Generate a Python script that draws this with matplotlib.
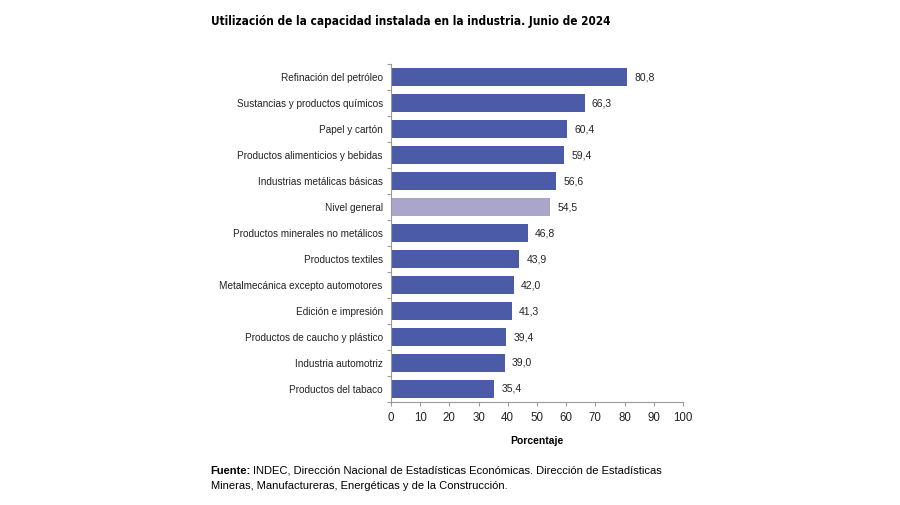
import matplotlib.pyplot as plt
import numpy as np

# Data
categorias = [
    "Refinación del petróleo",
    "Sustancias y productos químicos",
    "Papel y cartón",
    "Productos alimenticios y bebidas",
    "Industrias metálicas básicas",
    "Nivel general",
    "Productos minerales no metálicos",
    "Productos textiles",
    "Metalmecánica excepto automotores",
    "Edición e impresión",
    "Productos de caucho y plástico",
    "Industria automotriz",
    "Productos del tabaco",
]
valores = [80.8, 66.3, 60.4, 59.4, 56.6, 54.5, 46.8, 43.9, 42.0, 41.3, 39.4, 39.0, 35.4]
ticks_x = [0, 10, 20, 30, 40, 50, 60, 70, 80, 90, 100]

azul = "#4b5ba8"
lila = "#a9a6c9"
gris = "#9a9a9a"

plt.rcParams["font.family"] = ["Liberation Sans", "DejaVu Sans"]

fig = plt.figure(figsize=(9, 5.05), dpi=100)
ax = fig.add_axes([0.4344, 0.204, 0.3244, 0.669])

y = np.arange(len(categorias))
colores = [lila if c == "Nivel general" else azul for c in categorias]
ax.barh(y, valores, height=0.7, color=colores)

for yi, v in zip(y, valores):
    ax.text(v + 2.5, yi, f"{v:.1f}".replace(".", ","), va="center", ha="left",
            fontsize=7.5, color="#222222")

ax.set_ylim(len(categorias) - 0.5, -0.5)
ax.set_xlim(0, 100)
ax.set_yticks(y)
ax.set_yticklabels(categorias, fontsize=7.2, color="#222222")
ax.tick_params(axis="y", which="major", length=0, pad=6)
ax.set_yticks(np.arange(-0.5, len(categorias), 1), minor=True)
ax.tick_params(axis="y", which="minor", length=3, color=gris, width=0.8)

ax.set_xticks(ticks_x)
ax.tick_params(axis="x", length=3, color=gris, width=0.8, labelsize=8.3, labelcolor="#222222", pad=4)
ax.set_xlabel("Porcentaje", fontsize=7.5, fontweight="bold", labelpad=9)

for s in ["top", "right"]:
    ax.spines[s].set_visible(False)
for s in ["left", "bottom"]:
    ax.spines[s].set_color(gris)
    ax.spines[s].set_linewidth(0.8)

fig.text(0.234, 0.958, "Utilización de la capacidad instalada en la industria. Junio de 2024",
         fontsize=8.5, fontweight="bold", family="DejaVu Sans", fontstretch="condensed",
         va="center", ha="left")

# footer: bold "Fuente:" followed by normal text
fuente = fig.text(0.234, 0.062, "Fuente:", fontsize=8.0, fontweight="bold", va="baseline", ha="left")
fig.canvas.draw()
bb = fuente.get_window_extent()
x_resto = (bb.x1 + 2.5) / fig.bbox.width
fig.text(x_resto, 0.062,
         "INDEC, Dirección Nacional de Estadísticas Económicas. Dirección de Estadísticas",
         fontsize=8.0, va="baseline", ha="left")
fig.text(0.234, 0.031, "Mineras, Manufactureras, Energéticas y de la Construcción.",
         fontsize=8.0, va="baseline", ha="left")

plt.savefig("out.png", dpi=100)
